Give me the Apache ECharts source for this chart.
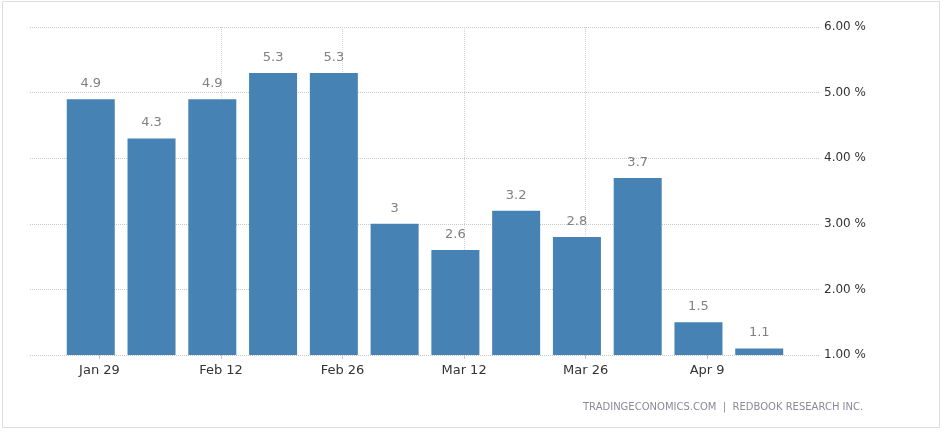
<!DOCTYPE html>
<html>
<head>
<meta charset="utf-8">
<script src="https://cdn.jsdelivr.net/npm/echarts@6/dist/echarts.min.js"></script>
<style>html,body{margin:0;padding:0;background:#fff;}#c{width:944px;height:432px;}</style>
</head>
<body>
<div id="c"></div>
<script>
// Weekly bars (week ending dates, 2023)
const barDates = ['2023-01-28','2023-02-04','2023-02-11','2023-02-18','2023-02-25','2023-03-04','2023-03-11','2023-03-18','2023-03-25','2023-04-01','2023-04-08','2023-04-15'];
const values = [4.9, 4.3, 4.9, 5.3, 5.3, 3, 2.6, 3.2, 2.8, 3.7, 1.5, 1.1];
const tickDates = ['2023-01-29','2023-02-12','2023-02-26','2023-03-12','2023-03-26','2023-04-09'];
const tickLabels = ['Jan 29','Feb 12','Feb 26','Mar 12','Mar 26','Apr 9'];
const yTicks = [1, 2, 3, 4, 5, 6];
const sourceText = 'TRADINGECONOMICS.COM  |  REDBOOK RESEARCH INC.';

const DAY = 86400000;
const origin = Date.parse(tickDates[0]);
const dayOff = d => Math.round((Date.parse(d) - origin) / DAY);
const tickOffsets = tickDates.map(dayOff);
const data = barDates.map((d, i) => [dayOff(d), values[i]]);

const font = 'DejaVu Sans';
const chart = echarts.init(document.getElementById('c'));
chart.setOption({
  animation: false,
  grid: { left: 30, right: 124, top: 27, bottom: 77 },
  graphic: [
    { type: 'rect', shape: { x: 2.5, y: 1.5, width: 937, height: 426 }, style: { fill: 'none', stroke: '#dddddd', lineWidth: 1 }, silent: true },
    { type: 'text', left: 583, top: 402, style: { text: sourceText, fill: '#8a8a9a', font: '10px "DejaVu Sans"' } }
  ],
  xAxis: {
    type: 'value',
    min: -8, max: 83,
    axisLine: { show: false },
    axisTick: { show: true, customValues: tickOffsets, length: 4, lineStyle: { color: '#c8c8c8' } },
    axisLabel: {
      customValues: tickOffsets,
      formatter: v => { const i = tickOffsets.indexOf(v); return i >= 0 ? tickLabels[i] : ''; },
      color: '#333', fontFamily: font, fontSize: 13, margin: 9
    },
    splitLine: { show: true, showMinLine: false, showMaxLine: false, lineStyle: { color: '#d6d6d6', type: 'dotted' } }
  },
  yAxis: {
    type: 'value', position: 'right',
    min: yTicks[0], max: yTicks[yTicks.length - 1], interval: 1,
    axisLine: { show: false }, axisTick: { show: false },
    axisLabel: { formatter: v => v.toFixed(2) + ' %', color: '#333', fontFamily: font, fontSize: 12, margin: 4 },
    splitLine: { show: true, lineStyle: { color: '#c8c8c8', type: 'dotted' } }
  },
  series: [{
    type: 'bar',
    data: data,
    barWidth: 48,
    itemStyle: { color: '#4682b4' },
    label: { show: true, position: 'top', distance: 9, color: '#808080', fontFamily: font, fontSize: 13 }
  }]
});
</script>
</body>
</html>
